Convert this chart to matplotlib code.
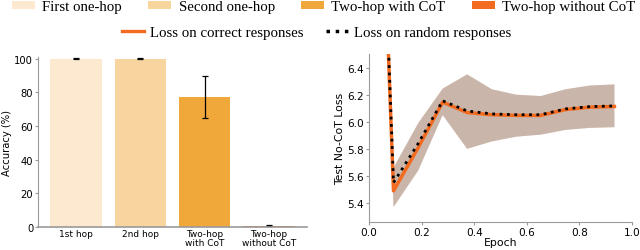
import matplotlib
matplotlib.use("Agg")
import matplotlib.pyplot as plt
from matplotlib.patches import Patch
from matplotlib.lines import Line2D

# ---- data ----
bar_labels = ["1st hop", "2nd hop", "Two-hop\nwith CoT", "Two-hop\nwithout CoT"]
legend_names = ["First one-hop", "Second one-hop", "Two-hop with CoT", "Two-hop without CoT"]
accuracy = [100.0, 100.0, 77.3, 0.8]
accuracy_err = [0.2, 0.2, 12.7, 0.2]
bar_colors = ["#FCE9D0", "#F8D49E", "#F0A83A", "#F26B21"]

epochs = [0.0, 0.093, 0.187, 0.28, 0.373, 0.467, 0.56, 0.653, 0.747, 0.84, 0.933]
loss_correct = [10.4, 5.49, 5.81, 6.145, 6.068, 6.052, 6.047, 6.047, 6.09, 6.108, 6.113]
loss_random = [10.4, 5.55, 5.84, 6.155, 6.08, 6.058, 6.052, 6.052, 6.095, 6.112, 6.117]
band_top = [10.4, 5.66, 5.99, 6.245, 6.35, 6.24, 6.20, 6.19, 6.24, 6.268, 6.276]
band_bottom = [10.4, 5.37, 5.64, 6.05, 5.80, 5.855, 5.89, 5.905, 5.94, 5.955, 5.96]

plt.rcParams['font.family'] = ['DejaVu Sans']
fig = plt.figure(figsize=(6.4, 2.51), dpi=100)

spine_col = "#9a9a9a"

# ---- left bar chart ----
ax1 = fig.add_axes([0.0594, 0.0916, 0.420, 0.677])
x = range(len(accuracy))
ax1.bar(x, accuracy, width=0.8, color=bar_colors, yerr=accuracy_err,
        error_kw=dict(ecolor="black", elinewidth=0.9, capsize=2.5, capthick=0.9))
ax1.set_ylim(0, 101)
ax1.set_yticks([0, 20, 40, 60, 80, 100])
ax1.set_xticks(list(x))
ax1.set_xticklabels(bar_labels, fontsize=6.5, linespacing=1.0)
ax1.tick_params(axis='y', labelsize=7.2, length=2, color=spine_col, pad=1.5)
ax1.tick_params(axis='x', length=0, pad=1.5)
ax1.set_ylabel("Accuracy (%)", fontsize=7.2, labelpad=1.5)
for s in ["top", "right"]:
    ax1.spines[s].set_visible(False)
for s in ["left", "bottom"]:
    ax1.spines[s].set_color(spine_col)
ax1.spines["bottom"].set_linewidth(1.2)
ax1.spines["left"].set_linewidth(0.8)

# ---- right loss chart ----
ax2 = fig.add_axes([0.5766, 0.1116, 0.411, 0.669])
ax2.fill_between(epochs, band_bottom, band_top, color="#F26B21", alpha=0.25, linewidth=0)
ax2.fill_between(epochs, band_bottom, band_top, color="#808080", alpha=0.4, linewidth=0)
ax2.plot(epochs, loss_correct, color="#F26B21", linewidth=2.5, solid_joinstyle="round")
ax2.plot(epochs, loss_random, color="black", linewidth=2.0, linestyle=":")
ax2.set_xlim(0, 1)
ax2.set_ylim(5.26, 6.5)
ax2.set_xticks([0.0, 0.2, 0.4, 0.6, 0.8, 1.0])
ax2.set_yticks([5.4, 5.6, 5.8, 6.0, 6.2, 6.4])
ax2.tick_params(labelsize=7.6, length=2, color=spine_col, pad=1.5)
ax2.set_xlabel("Epoch", fontsize=7.8, labelpad=0)
ax2.set_ylabel("Test No-CoT Loss", fontsize=7.8, labelpad=2)
for s in ["top", "right"]:
    ax2.spines[s].set_visible(False)
for s in ["left", "bottom"]:
    ax2.spines[s].set_color(spine_col)

# ---- legends ----
serif = {"family": "Liberation Serif", "size": 10.7}
handles1 = [Patch(facecolor=c, edgecolor="none") for c in bar_colors]
fig.legend(handles1, legend_names, loc="center left", ncol=4, frameon=False,
           bbox_to_anchor=(12 / 640, 1 - 7.5 / 251), prop=serif,
           handlelength=1.55, handleheight=0.46, handletextpad=0.5,
           columnspacing=1.75, borderpad=0, borderaxespad=0)
handles2 = [Line2D([], [], color="#F26B21", linewidth=2.4),
            Line2D([], [], color="black", linewidth=2.5, linestyle=":")]
fig.legend(handles2, ["Loss on correct responses", "Loss on random responses"],
           loc="center left", ncol=2, frameon=False,
           bbox_to_anchor=(121.5 / 640, 1 - 33.5 / 251), prop=serif,
           handlelength=1.5, handletextpad=0.4, columnspacing=1.5,
           borderpad=0, borderaxespad=0)

fig.savefig("out.png", dpi=100)
